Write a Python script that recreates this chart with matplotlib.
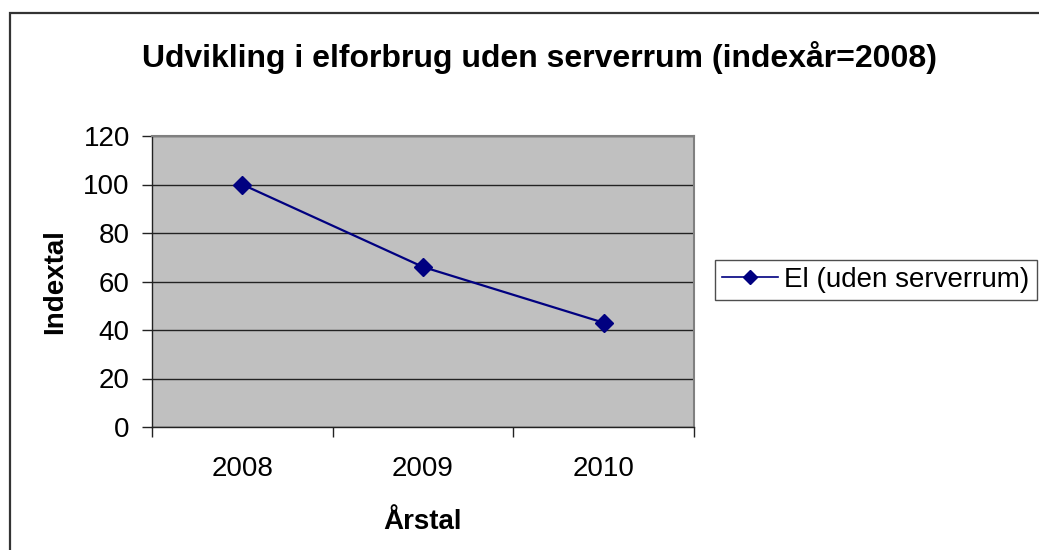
import matplotlib.pyplot as plt
from matplotlib.patches import Rectangle

plt.rcParams['font.family'] = ['Liberation Sans', 'DejaVu Sans']

# data
years = ['2008', '2009', '2010']
el_index = [100, 66, 43]
y_ticks = [0, 20, 40, 60, 80, 100, 120]

fig = plt.figure(figsize=(10.39, 5.5), dpi=100)

# outer chart border (runs past right and bottom edge)
fig.patches.append(Rectangle((10 / 1039, -0.1), 1.2, 1 - 13 / 550 + 0.1,
                             transform=fig.transFigure, fill=False,
                             edgecolor='#333333', linewidth=1.6))

ax = fig.add_axes([152 / 1039, 123 / 550, 542 / 1039, 291 / 550])
ax.set_facecolor('#C0C0C0')

x = list(range(len(years)))
ax.plot(x, el_index, color='#000080', linewidth=1.6, marker='D',
        markersize=9, label='El (uden serverrum)')

ax.set_xlim(-0.5, len(years) - 0.5)
ax.set_ylim(0, 120)
ax.set_yticks(y_ticks)
ax.set_xticks(x)
ax.set_xticklabels(years)
ax.set_xticks([i - 0.5 for i in range(len(years) + 1)], minor=True)
ax.tick_params(axis='x', which='major', length=0, pad=21, labelsize=20)
ax.tick_params(axis='x', which='minor', length=7, width=1, color='#222222')
ax.tick_params(axis='y', length=7, width=1, color='#222222', pad=9, labelsize=20)

ax.grid(axis='y', color='#222222', linewidth=1)
ax.set_axisbelow(True)
for side in ['left', 'bottom']:
    ax.spines[side].set_color('#222222')
    ax.spines[side].set_linewidth(1)
for side in ['top', 'right']:
    ax.spines[side].set_color('#808080')
    ax.spines[side].set_linewidth(1.5)

ax.set_xlabel('Årstal', fontsize=20, fontweight='bold', labelpad=19)
ax.set_ylabel('Indextal', fontsize=20, fontweight='bold', labelpad=11)

fig.text(540 / 1039, 1 - 57 / 550, 'Udvikling i elforbrug uden serverrum (indexår=2008)',
         ha='center', va='center', fontsize=23, fontweight='bold')

leg = ax.legend(loc='center left', bbox_to_anchor=(715 / 1039, 1 - 280 / 550),
                bbox_transform=fig.transFigure, frameon=True, fancybox=False,
                fontsize=20, handlelength=2.0, handletextpad=0.25,
                borderpad=0.25, borderaxespad=0)
leg.get_frame().set_edgecolor('#222222')
leg.get_frame().set_linewidth(1)
leg.get_lines()[0].set_linewidth(1.2)
leg.get_lines()[0].set_markersize(7)

fig.savefig('out.png', dpi=100)
